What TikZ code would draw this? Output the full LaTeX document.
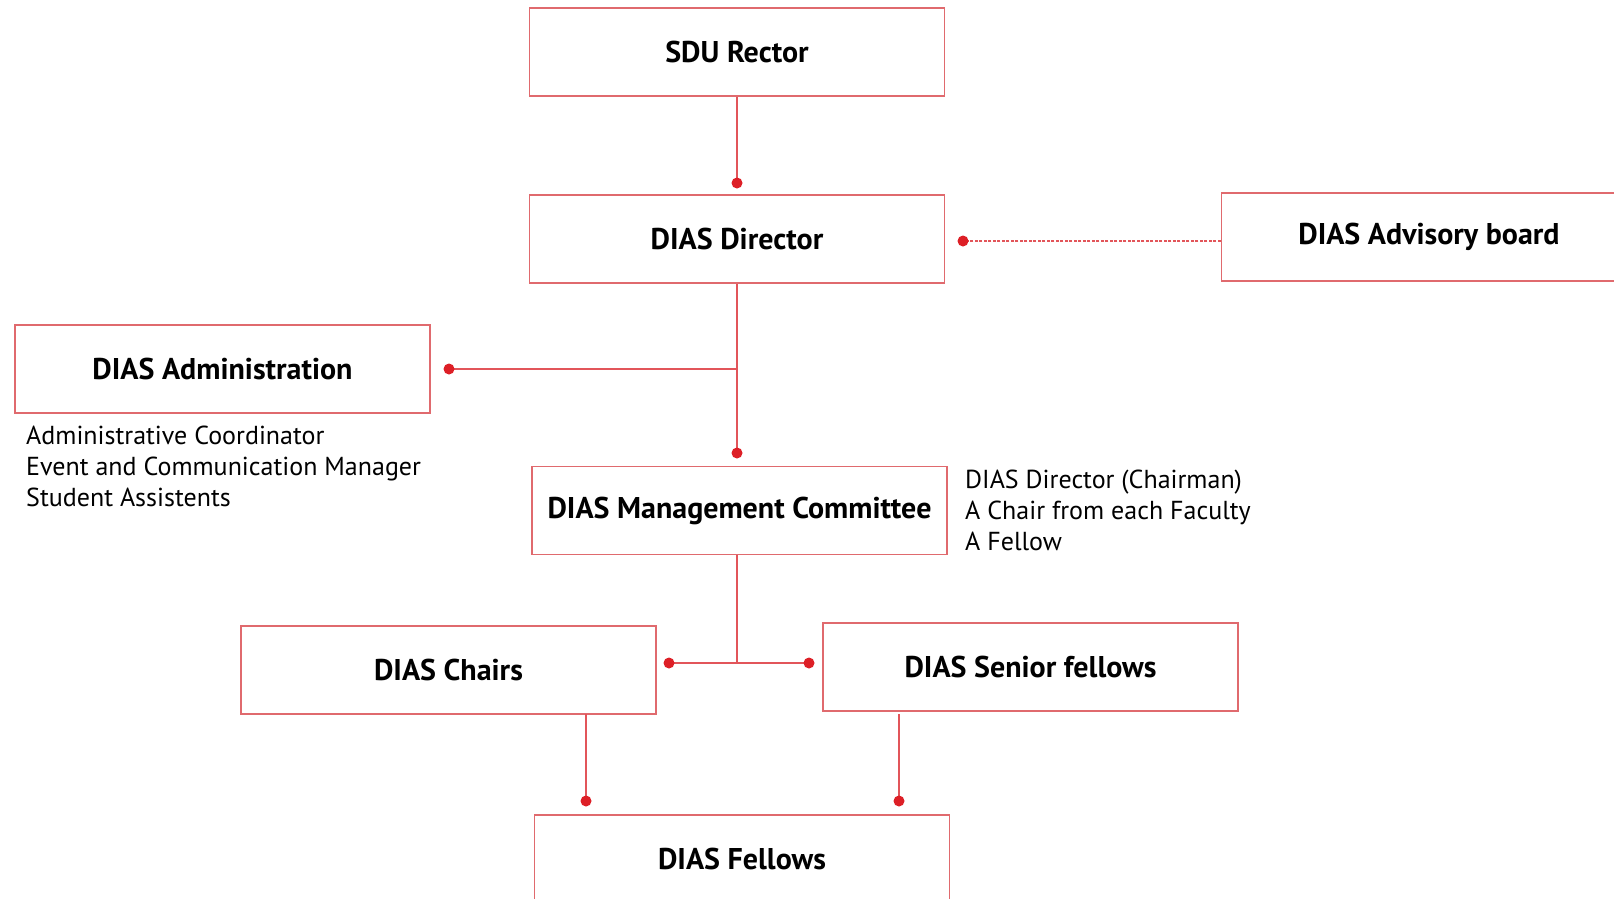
\documentclass[tikz,border=0pt]{standalone}
\usepackage{fontspec}
\setmainfont{PT Sans}
\definecolor{boxred}{HTML}{E06A6E}
\definecolor{dotred}{HTML}{DD1F26}
\definecolor{linered}{HTML}{E2555A}
\begin{document}
\begin{tikzpicture}[x=1pt,y=-1pt,
  orgbox/.style={draw=boxred,line width=1.5pt,fill=white,minimum width=415pt,minimum height=88pt,inner sep=0pt,font=\fontsize{30}{33}\selectfont\bfseries},
  conn/.style={draw=linered,line width=1.4pt},
  dotc/.style={fill=dotred},
  note/.style={anchor=north west,align=left,inner sep=0pt,font=\fontsize{26}{31}\selectfont}]
\useasboundingbox (0,0) rectangle (1614,898);
\clip (0,0) rectangle (1614,898);
% boxes
\node[orgbox] (rector) at (737,52) {SDU Rector};
\node[orgbox] (director) at (737,239) {DIAS Director};
\node[orgbox] (advisory) at (1429,237) {DIAS Advisory board};
\node[orgbox] (admin) at (222.5,369) {DIAS Administration};
\node[orgbox] (mgmt) at (739.5,510.5) {DIAS Management Committee};
\node[orgbox] (chairs) at (448.5,670) {DIAS Chairs};
\node[orgbox] (senior) at (1030.5,667) {DIAS Senior fellows};
\node[orgbox] (fellows) at (742,859) {DIAS Fellows};
% notes
\node[note] (adminnote) at (26,426) {Administrative Coordinator\\Event and Communication Manager\\Student Assistents};
\node[note] (mgmtnote) at (965,470) {DIAS Director (Chairman)\\A Chair from each Faculty\\A Fellow};
% coordinates
\coordinate (d1) at (737,183);
\coordinate (d2) at (963,241);
\coordinate (d3) at (449,369);
\coordinate (j1) at (737,369);
\coordinate (d4) at (737,453);
\coordinate (j2) at (737,663);
\coordinate (d5) at (669,663);
\coordinate (d6) at (809,663);
\coordinate (c1) at (586,714);
\coordinate (d7) at (586,801);
\coordinate (s1) at (899,714);
\coordinate (d8) at (899,801);
% connectors
\draw[conn] (rector.south) -- (d1);
\draw[conn,dash pattern=on 3pt off 1.5pt,line width=1.1pt] (d2 -| advisory.west) -- (d2);
\draw[conn] (director.south) -- (d4);
\draw[conn] (j1) -- (d3);
\draw[conn] (j2 |- mgmt.south) -- (j2);
\draw[conn] (d5) -- (d6);
\draw[conn] (c1) -- (d7);
\draw[conn] (s1) -- (d8);
% dots
\foreach \p in {d1,d2,d3,d4,d5,d6,d7,d8} \fill[dotc] (\p) circle (5.5);
\end{tikzpicture}
\end{document}
